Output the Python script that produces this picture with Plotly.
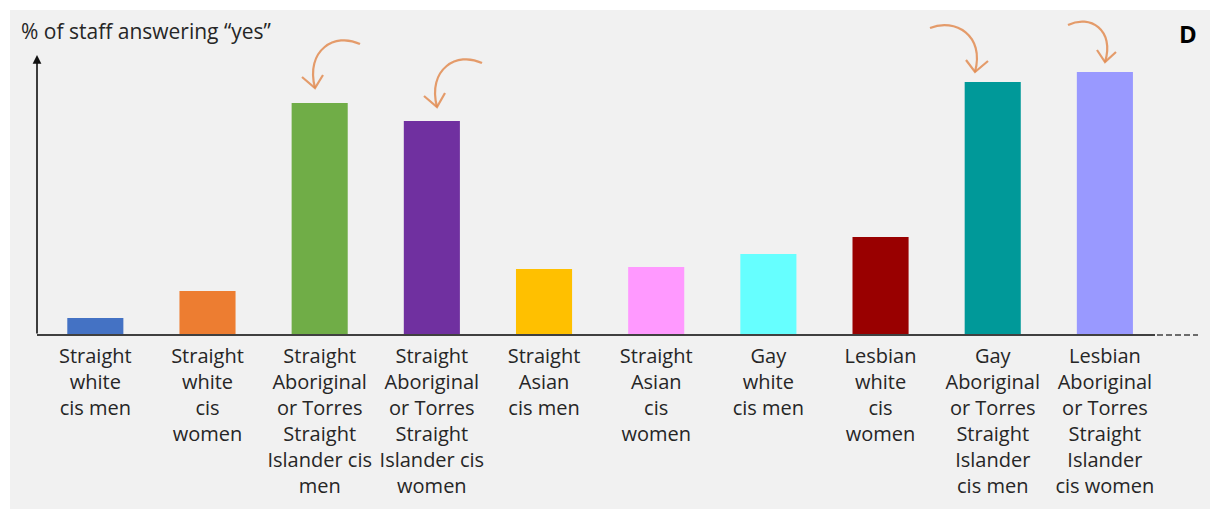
import plotly.graph_objects as go

# ---- data ----
categories = [
    "Straight white cis men",
    "Straight white cis women",
    "Straight Aboriginal or Torres Straight Islander cis men",
    "Straight Aboriginal or Torres Straight Islander cis women",
    "Straight Asian cis men",
    "Straight Asian cis women",
    "Gay white cis men",
    "Lesbian white cis women",
    "Gay Aboriginal or Torres Straight Islander cis men",
    "Lesbian Aboriginal or Torres Straight Islander cis women",
]
tick_labels = [
    "Straight<br>white<br>cis men",
    "Straight<br>white<br>cis<br>women",
    "Straight<br>Aboriginal<br>or Torres<br>Straight<br>Islander cis<br>men",
    "Straight<br>Aboriginal<br>or Torres<br>Straight<br>Islander cis<br>women",
    "Straight<br>Asian<br>cis men",
    "Straight<br>Asian<br>cis<br>women",
    "Gay<br>white<br>cis men",
    "Lesbian<br>white<br>cis<br>women",
    "Gay<br>Aboriginal<br>or Torres<br>Straight<br>Islander<br>cis men",
    "Lesbian<br>Aboriginal<br>or Torres<br>Straight<br>Islander<br>cis women",
]
values = [6.1, 15.7, 82.9, 76.4, 23.6, 24.3, 28.9, 35.0, 90.4, 93.9]
colors = ["#4472C4", "#ED7D31", "#70AD47", "#7030A0", "#FFC000",
          "#FF99FF", "#66FFFF", "#990000", "#009999", "#9999FF"]

# ---- layout geometry (pixels) ----
W, H = 1210, 509
L, R, T, B = 37, 12, 55, 174
PW = W - L - R
PH = H - T - B
BASE_Y = H - B


def px(x):
    return (x - L) / PW


def py(y):
    return (BASE_Y - y) / PH


fig = go.Figure(go.Bar(
    x=categories, y=values, marker_color=colors, marker_line_width=0,
    width=0.5,
))

shapes = []
# gray panel
shapes.append(dict(type="rect", xref="paper", yref="paper",
                   x0=px(10), x1=px(1212), y0=py(511), y1=py(10),
                   fillcolor="#F1F1F1", line_width=0, layer="below"))
# x axis line (solid + dashed tail)
shapes.append(dict(type="line", xref="paper", yref="paper",
                   x0=0, x1=px(1155), y0=0, y1=0,
                   line=dict(color="#404040", width=2)))
shapes.append(dict(type="line", xref="paper", yref="paper",
                   x0=px(1157), x1=px(1198), y0=0, y1=0,
                   line=dict(color="#404040", width=1.5, dash="6px,3px")))

# curved arrows
ARROW_COL = "rgba(226,140,82,0.85)"
arrows = [
    # (curve path points, arrowhead points) in pixels
    ((360, 44), (335, 32), (305, 50), (315, 88), (302, 77), (323, 75)),
    ((482, 63), (457, 51), (427, 69), (437, 107), (424, 96), (445, 93)),
    ((930, 28), (955, 18), (985, 35), (975, 72), (966, 60), (988, 61)),
    ((1068, 25), (1090, 14), (1115, 30), (1105, 62), (1097, 50), (1116, 52)),
]
for p0, c1, c2, p1, w1, w2 in arrows:
    path = "M {} {} C {} {}, {} {}, {} {}".format(
        px(p0[0]), py(p0[1]), px(c1[0]), py(c1[1]),
        px(c2[0]), py(c2[1]), px(p1[0]), py(p1[1]))
    shapes.append(dict(type="path", xref="paper", yref="paper", path=path,
                       line=dict(color=ARROW_COL, width=2.2)))
    head = "M {} {} L {} {} L {} {}".format(
        px(w1[0]), py(w1[1]), px(p1[0]), py(p1[1]), px(w2[0]), py(w2[1]))
    shapes.append(dict(type="path", xref="paper", yref="paper", path=head,
                       line=dict(color=ARROW_COL, width=2.2)))

annotations = [
    # y axis arrow
    dict(x=0, y=1.0, xref="paper", yref="paper", ax=0, ay=PH, axref="pixel",
         ayref="pixel", showarrow=True, arrowhead=2, arrowsize=1.1,
         arrowwidth=1.6, arrowcolor="#111111", text=""),
    dict(x=px(19), y=py(31), xref="paper", yref="paper", xanchor="left",
         yanchor="middle", showarrow=False,
         text="% of staff answering “yes”",
         font=dict(size=21, color="#262626", family="Open Sans")),
    dict(x=px(1188), y=py(33), xref="paper", yref="paper", xanchor="center",
         yanchor="middle", showarrow=False, text="<b>D</b>",
         font=dict(size=24, color="#000000", family="Open Sans")),
]

fig.update_layout(
    width=W, height=H,
    margin=dict(l=L, r=R, t=T, b=B, pad=0, autoexpand=False),
    paper_bgcolor="white",
    plot_bgcolor="rgba(0,0,0,0)",
    showlegend=False,
    shapes=shapes,
    annotations=annotations,
    bargap=0.5,
    font=dict(family="Open Sans", size=18, color="#262626"),
)
fig.update_xaxes(
    type="category", automargin=False,
    tickmode="array", tickvals=categories, ticktext=tick_labels,
    range=[-0.52, 9.83], showline=False, showgrid=False, zeroline=False,
    ticks="", tickangle=0, tickfont=dict(size=20, color="#262626"),
    ticklabelstandoff=7,
)
fig.update_yaxes(range=[0, 100], showline=False, showgrid=False,
                 zeroline=False, showticklabels=False, ticks="",
                 automargin=False)

fig.write_html("out.html")
